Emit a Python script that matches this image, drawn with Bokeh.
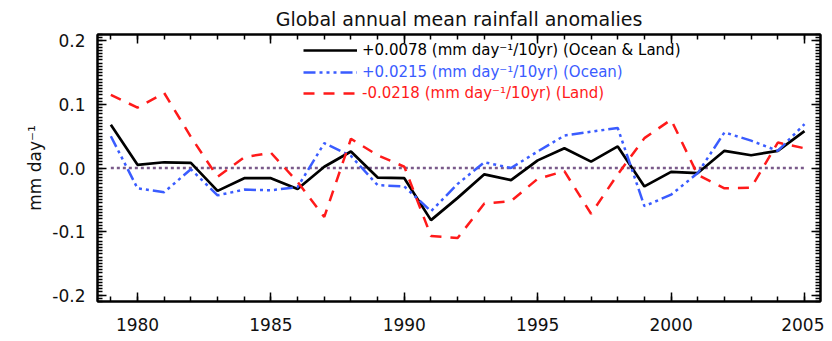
from bokeh.plotting import figure
from bokeh.models import (FixedTicker, LinearAxis, Range1d, Legend, LegendItem,
                          ColumnDataSource, PrintfTickFormatter, CustomJSTickFormatter)
from bokeh.embed import file_html
from bokeh.resources import INLINE

# ---------------- data ----------------
years = list(range(1979, 2006))
ocean_land = [0.068, 0.005, 0.009, 0.008, -0.036, -0.016, -0.016, -0.033, 0.002,
              0.026, -0.015, -0.016, -0.082, -0.047, -0.010, -0.019, 0.012, 0.031,
              0.010, 0.034, -0.029, -0.006, -0.008, 0.027, 0.020, 0.027, 0.058]
ocean = [0.050, -0.032, -0.038, -0.002, -0.043, -0.034, -0.035, -0.030, 0.039,
         0.019, -0.027, -0.029, -0.068, -0.025, 0.009, 0.000, 0.026, 0.051,
         0.057, 0.063, -0.060, -0.042, -0.008, 0.056, 0.043, 0.027, 0.069]
land = [0.115, 0.095, 0.118, 0.049, -0.014, 0.017, 0.024, -0.022, -0.077,
        0.046, 0.020, 0.002, -0.107, -0.110, -0.056, -0.052, -0.017, -0.005,
        -0.072, -0.010, 0.047, 0.076, -0.011, -0.032, -0.031, 0.040, 0.031]
zero = [0.0] * len(years)

x_ticks = [1980, 1985, 1990, 1995, 2000, 2005]
y_ticks = [-0.2, -0.1, 0.0, 0.1, 0.2]

title_text = "Global annual mean rainfall anomalies"
y_label = "mm day\u207b\u00b9"
legend_labels = ["+0.0078 (mm day\u207b\u00b9/10yr) (Ocean & Land)",
                 "+0.0215 (mm day\u207b\u00b9/10yr) (Ocean)",
                 "-0.0218 (mm day\u207b\u00b9/10yr) (Land)"]

FONT = "DejaVu Sans"

src = ColumnDataSource(dict(year=years, both=ocean_land, ocean=ocean, land=land, zero=zero))

p = figure(width=824, height=336, output_backend="svg", toolbar_location=None,
           x_range=Range1d(1978.5, 2005.6), y_range=Range1d(-0.21, 0.21),
           x_axis_type=None, y_axis_type=None, title=title_text,
           min_border_left=97, min_border_right=4, min_border_top=34, min_border_bottom=35)
p.outline_line_color = "black"
p.outline_line_width = 2
p.background_fill_color = "white"
p.border_fill_color = "white"

p.title.text_font = FONT
p.title.text_font_size = "19px"
p.title.text_font_style = "normal"
p.title.text_color = "#111111"
p.title.align = "center"
p.title.offset = -6
p.title.standoff = 10

x_minor = [y for y in range(1978, 2007)]
y_minor = [round(-0.21 + 0.005 * i, 3) for i in range(0, 85)]

blank = CustomJSTickFormatter(code="return ''")

def style_axis(ax, show_labels=True):
    ax.axis_line_width = 2
    ax.axis_line_color = "black"
    ax.major_tick_in = 9
    ax.major_tick_out = 0
    ax.minor_tick_in = 5
    ax.minor_tick_out = 0
    ax.major_tick_line_width = 1.5
    ax.minor_tick_line_width = 1.5
    ax.major_tick_line_color = "black"
    ax.minor_tick_line_color = "black"
    ax.major_label_text_font = FONT
    ax.major_label_text_color = "#111111"
    ax.major_label_text_font_size = "17px"
    if not show_labels:
        ax.major_label_standoff = 0

xb = LinearAxis(ticker=FixedTicker(ticks=x_ticks, minor_ticks=x_minor))
style_axis(xb)
xb.major_label_standoff = 16
p.add_layout(xb, "below")

xt = LinearAxis(ticker=FixedTicker(ticks=x_ticks, minor_ticks=x_minor), formatter=blank)
style_axis(xt, False)
p.add_layout(xt, "above")

yl = LinearAxis(ticker=FixedTicker(ticks=y_ticks, minor_ticks=y_minor),
                formatter=PrintfTickFormatter(format="%.1f"))
style_axis(yl)
yl.major_label_standoff = 12
yl.axis_label = y_label
yl.axis_label_text_font = FONT
yl.axis_label_text_font_style = "normal"
yl.axis_label_text_font_size = "17px"
yl.axis_label_text_color = "#111111"
yl.axis_label_standoff = 4
p.add_layout(yl, "left")

yr = LinearAxis(ticker=FixedTicker(ticks=y_ticks, minor_ticks=y_minor), formatter=blank)
style_axis(yr, False)
p.add_layout(yr, "right")

# zero line
p.line("year", "zero", source=src, line_color="#7a5a8a", line_width=2.5, line_dash="3 3")

r_both = p.line("year", "both", source=src, line_color="black", line_width=2.7)
r_ocean = p.line("year", "ocean", source=src, line_color="#3a5cff", line_width=2.5,
                 line_dash="12 4 3 4 3 4 3 4")
r_land = p.line("year", "land", source=src, line_color="#ff1a1a", line_width=2.5,
                line_dash="11 9")

colors = ["black", "#3a5cff", "#ff1a1a"]
renderers = [r_both, r_ocean, r_land]
for i, (lab, col, r) in enumerate(zip(legend_labels, colors, renderers)):
    lg = Legend(items=[LegendItem(label=lab, renderers=[r])],
                location=(206, 241 - 21.5 * i), margin=0, padding=0, spacing=0,
                glyph_width=54, glyph_height=20, label_height=20, label_standoff=5,
                label_text_font=FONT, label_text_font_size="15px",
                label_text_color=col, border_line_color=None,
                background_fill_alpha=0)
    p.add_layout(lg, "center")

open("out.html", "w").write(file_html(p, INLINE))
